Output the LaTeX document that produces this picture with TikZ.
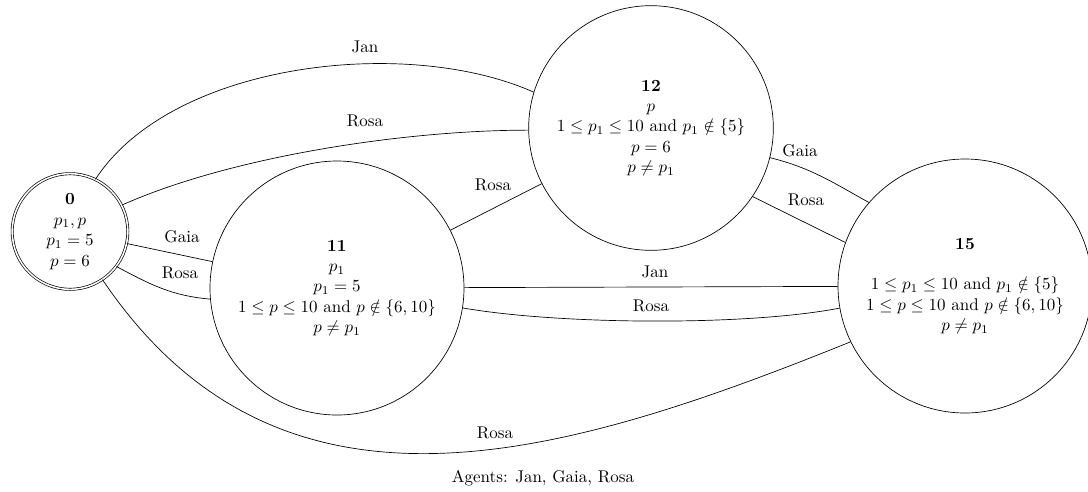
\documentclass[tikz,border=0pt]{standalone}
\begin{document}
\begin{tikzpicture}[x=0.5882pt,y=0.5882pt,
  state/.style={circle,draw,align=center,inner sep=0pt},
  lbl/.style={inner sep=0pt,anchor=center}]
\useasboundingbox (0,0) rectangle (1088,-491);

% states
\node[state,double,double distance=0.9pt,minimum size=68pt] (n0) at (70,-231.5)
  {\textbf{0}\\ $p_1, p$\\ $p_1 = 5$\\ $p = 6$};
\node[state,minimum size=143.9pt] (n12) at (651,-128)
  {\textbf{12}\\ $p$\\ $1 \le p_1 \le 10$ and $p_1 \notin \{5\}$\\ $p = 6$\\ $p \neq p_1$};
\node[state,minimum size=149.4pt] (n11) at (337,-288)
  {\textbf{11}\\ $p_1$\\ $p_1 = 5$\\ $1 \le p \le 10$ and $p \notin \{6, 10\}$\\ $p \neq p_1$};
\node[state,minimum size=149.4pt] (n15) at (965,-286)
  {\textbf{15}\\ \mbox{}\\ $1 \le p_1 \le 10$ and $p_1 \notin \{5\}$\\ $1 \le p \le 10$ and $p \notin \{6, 10\}$\\ $p \neq p_1$};

% transitions
\draw (n0.64) to[out=57,in=156,looseness=0.8] (n12.163)
  node[lbl] (e1) at (365,-47) {Jan};
\draw (n0.27) to[out=24,in=180,looseness=0.75] (n12.181)
  node[lbl] (e2) at (365,-121) {Rosa};
\draw (n0) -- (n11)
  node[lbl] (e3) at (182,-237) {Gaia};
\draw (n0.-37) to[out=-28,in=175] (n11.185)
  node[lbl] (e4) at (180,-273) {Rosa};
\draw (n0.-56) to[out=-56,in=202,looseness=1.08] (n15.206)
  node[lbl] (e5) at (495,-433) {Rosa};
\draw (n11) -- (n12)
  node[lbl] (e6) at (493,-185) {Rosa};
\draw (n11) -- (n15)
  node[lbl] (e7) at (655,-272) {Jan};
\draw (n11.-9) to[out=-10,in=191,looseness=0.65] (n15.190)
  node[lbl] (e8) at (651,-306) {Rosa};
\draw (n12.-14) to[out=-14,in=151] (n15.139)
  node[lbl] (e9) at (800,-151) {Gaia};
\draw (n12.-34) -- (n15.160)
  node[lbl] (e10) at (806,-200) {Rosa};

\node (caption) at (543,-478) {Agents: Jan, Gaia, Rosa};
\end{tikzpicture}
\end{document}
